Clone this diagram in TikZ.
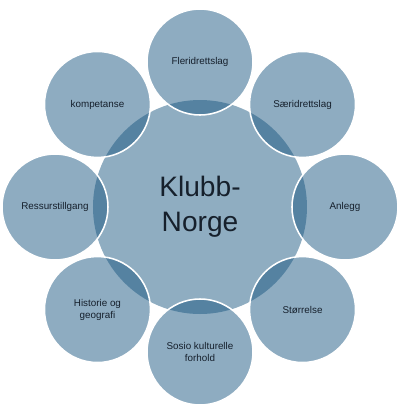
\documentclass[tikz,border=0pt]{standalone}
\usepackage{fontspec}
\setmainfont{Liberation Sans}
\definecolor{ringfill}{RGB}{29,89,131}
\definecolor{hubfill}{RGB}{143,173,193}
\definecolor{labeltext}{RGB}{22,32,44}
\begin{document}
\begin{tikzpicture}[
        hub/.style={circle,fill=hubfill,minimum size=5.35cm,inner sep=0pt,align=center,
            text=labeltext,font=\fontsize{20}{25}\selectfont},
        outer/.style={circle,draw=white,line width=1.1pt,fill=ringfill,fill opacity=0.5,
            text opacity=1,minimum size=2.65cm,inner sep=0pt,align=center,
            text=labeltext,font=\fontsize{7}{8.5}\selectfont}]
        \useasboundingbox (-5,-5) rectangle (5.125,5.175);
        \node[hub] (KN) at (0,0) {Klubb-\\Norge};
        \begin{scope}[every node/.style={outer}]
            \node (FL) at (90:3.625) {Fleridrettslag};
            \node (SL) at (45:3.625) {Særidrettslag};
            \node (AN) at (0:3.625) {Anlegg};
            \node (ST) at (-45:3.625) {Størrelse};
            \node (SK) at (-90:3.625) {Sosio kulturelle\\forhold};
            \node (HG) at (-135:3.625) {Historie og\\geografi};
            \node (RT) at (180:3.625) {Ressurstillgang};
            \node (KO) at (135:3.625) {kompetanse};
        \end{scope}
    \end{tikzpicture}
\end{document}
